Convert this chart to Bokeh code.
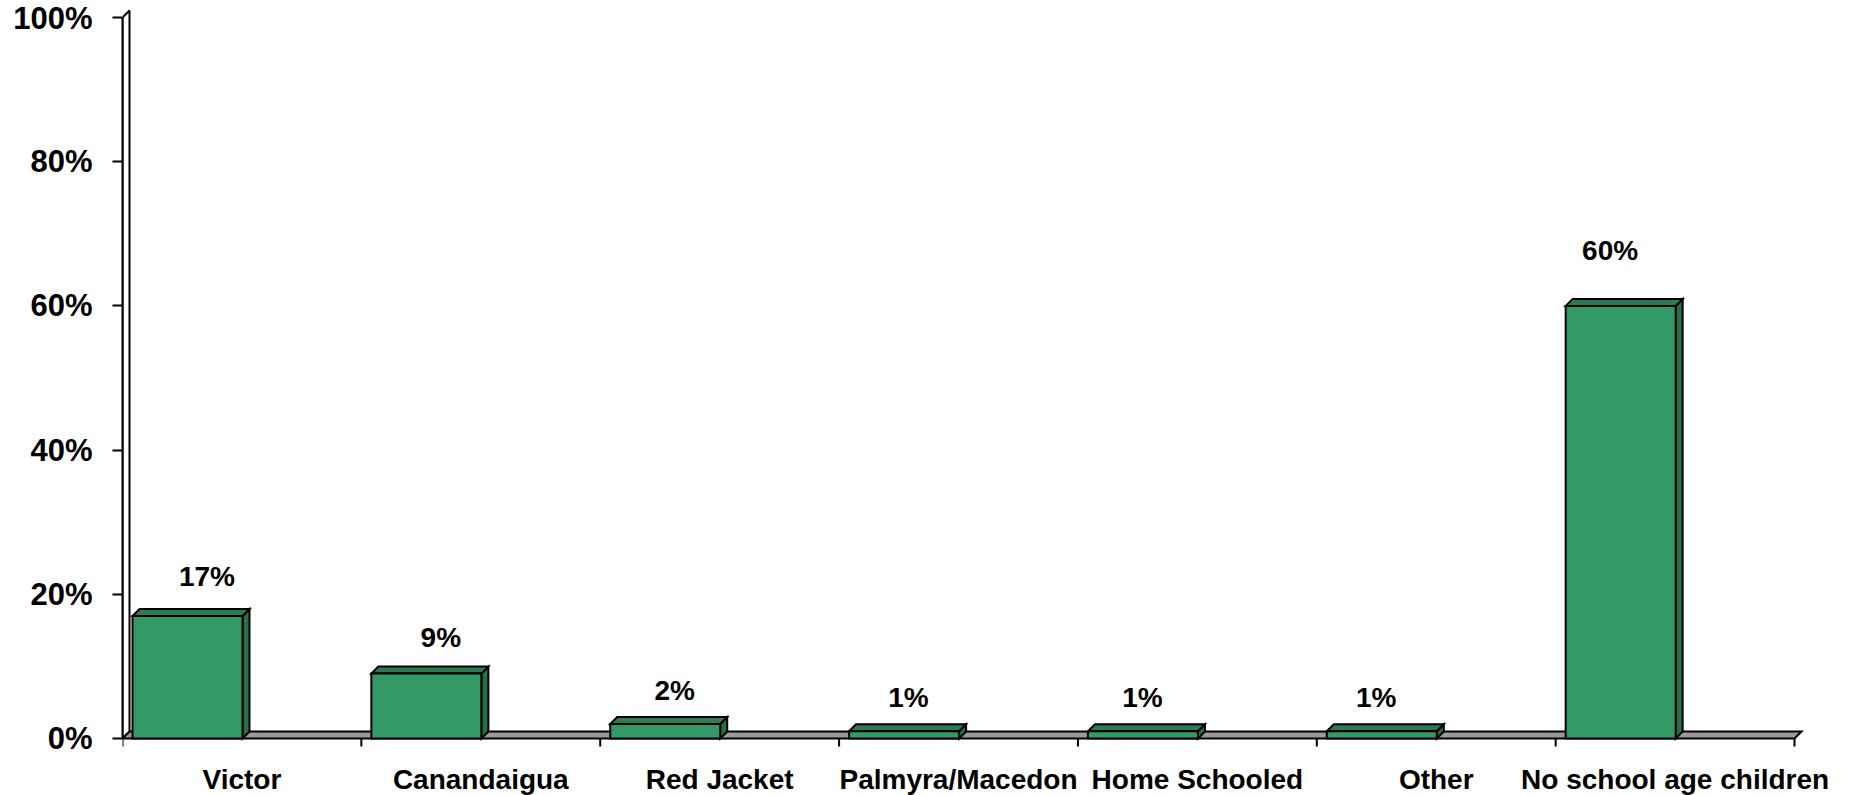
from bokeh.plotting import figure
from bokeh.models import Range1d, FixedTicker
from bokeh.core.properties import value
from bokeh.embed import file_html
from bokeh.resources import INLINE

categories = ["Victor", "Canandaigua", "Red Jacket", "Palmyra/Macedon",
              "Home Schooled", "Other", "No school age children"]
values = [17, 9, 2, 1, 1, 1, 60]
value_labels = ["17%", "9%", "2%", "1%", "1%", "1%", "60%"]
y_ticks = [0, 20, 40, 60, 80, 100]
y_tick_labels = ["0%", "20%", "40%", "60%", "80%", "100%"]

FONT = "Liberation Sans"
FRONT = "#339966"
SIDE = "#276E4B"
TOP = "#2D7A54"
FLOOR = "#999999"

W, H = 1851, 795
LEFT = 122
UNIT_X = 238.86          # px per category
UNIT_Y = 7.21            # px per percent
Y0 = 738                 # px of the 0% line
X_END = (W - LEFT) / UNIT_X
Y_START = -(H - Y0) / UNIT_Y
Y_END = Y0 / UNIT_Y

p = figure(width=W, height=H, output_backend="svg", toolbar_location=None,
           x_range=Range1d(0, X_END), y_range=Range1d(Y_START, Y_END),
           x_axis_type=None, min_border_left=LEFT, min_border_right=0,
           min_border_top=0, min_border_bottom=0)
p.outline_line_color = None
p.grid.visible = False
p.background_fill_color = "white"
p.border_fill_color = "white"

px_x = 1.0 / UNIT_X
px_y = 1.0 / UNIT_Y
dx = 7 * px_x
dy = 7 * px_y

n = len(categories)

# wall
p.patch([0, 0, dx, dx], [0, 100, 100 + dy, dy], fill_color="white",
        line_color="black", line_width=2)
# floor
p.patch([0, n, n + dx, dx], [0, 0, dy, dy], fill_color=FLOOR,
        line_color="black", line_width=2, line_join="miter")

# category boundary ticks
p.segment(x0=list(range(n + 1)), y0=[0] * (n + 1), x1=list(range(n + 1)),
          y1=[-8 * px_y] * (n + 1), line_color="black", line_width=2)

# bars
bw = 110 * px_x
gap = 10 * px_x
lefts = [i + gap for i in range(n)]
rights = [l + bw for l in lefts]
side_xs = [[r, r + dx, r + dx, r] for r in rights]
side_ys = [[0, dy, v + dy, v] for v in values]
top_xs = [[l, r, r + dx, l + dx] for l, r in zip(lefts, rights)]
top_ys = [[v, v, v + dy, v + dy] for v in values]
p.patches(side_xs, side_ys, fill_color=SIDE, line_color="black",
          line_width=2, line_join="miter")
p.patches(top_xs, top_ys, fill_color=TOP, line_color="black",
          line_width=2, line_join="miter")
p.quad(left=lefts, right=rights, bottom=[0] * n, top=values,
       fill_color=FRONT, line_color="black", line_width=2, line_join="miter")

# y axis
ax = p.yaxis[0]
ax.ticker = FixedTicker(ticks=y_ticks)
ax.major_label_overrides = {t: l for t, l in zip(y_ticks, y_tick_labels)}
ax.bounds = (0, 100)
ax.axis_line_color = "black"
ax.axis_line_width = 2
ax.major_tick_line_width = 2
ax.major_tick_in = 0
ax.major_tick_out = 10
ax.minor_tick_line_color = None
ax.major_label_standoff = 20
ax.major_label_text_font = FONT
ax.major_label_text_font_style = "bold"
ax.major_label_text_font_size = "31px"
ax.major_label_text_color = "black"

# data labels
lab_x = [i + 0.5 + (-35 - 5 * i) * px_x for i in range(n)]
lab_y = [v * 1.05 + 4.9 - (0.358 * 28 - 8) * px_y for v in values]
p.text(x=lab_x, y=lab_y, text=value_labels, text_font=value(FONT),
       text_font_style="bold", text_font_size="28px", text_align="center",
       text_baseline="alphabetic", text_color="black")

# category labels
cat_x = [i + 0.5 for i in range(n)]
cat_y = [-41 * px_y] * n
p.text(x=cat_x, y=cat_y, text=categories, text_font=value(FONT),
       text_font_style="bold", text_font_size="28px", text_align="center",
       text_baseline="alphabetic", text_color="black")

open("out.html", "w").write(file_html(p, INLINE))
